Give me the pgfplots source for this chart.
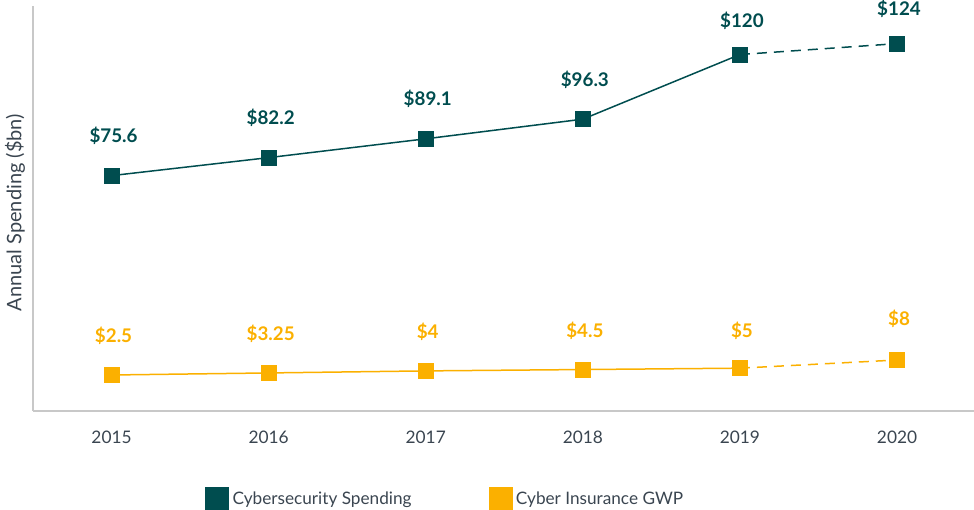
\documentclass[border=0pt]{standalone}
\usepackage{fontspec}
\setmainfont{Lato}
\usepackage{pgfplots}
\pgfplotsset{compat=1.18}
\usepackage{pgfplotstable}
\definecolor{cyberteal}{HTML}{004D4F}
\definecolor{insorange}{HTML}{FBB000}
\definecolor{txtgray}{HTML}{3A4550}
\definecolor{axgray}{HTML}{C8C8C8}

\pgfplotstableread{
x y lab dy
2015 75.6 75.6 33
2016 82.2 82.2 33
2017 89.1 89.1 33
2018 96.3 96.3 33
2019 120 120 27
2020 124 124 28
}\cyber
\pgfplotstableread{
x y lab dy
2015 2.5 2.5 32
2016 3.25 3.25 32
2017 4 4 32
2018 4.5 4.5 32
2019 5 5 31
2020 8 8 34
}\insur
\pgfplotstableread{
x y
2015 75.6
2016 82.2
2017 89.1
2018 96.3
2019 120
}\cybersolid
\pgfplotstableread{
x y
2019 120
2020 124
}\cyberdash
\pgfplotstableread{
x y
2015 2.5
2016 3.25
2017 4
2018 4.5
2019 5
}\insursolid
\pgfplotstableread{
x y
2019 5
2020 8
}\insurdash

\begin{document}
\begin{tikzpicture}
\path[use as bounding box] (0pt,0pt) rectangle (974pt,510pt);
\begin{axis}[
  at={(33pt,99pt)}, anchor=south west,
  scale only axis, width=941pt, height=405pt,
  xmin=2014.5, xmax=2020.49, ymin=-10.7, ymax=137.8,
  axis x line*=bottom, axis y line*=left,
  axis line style={draw=axgray, line width=1.5pt, -},
  ytick=\empty, xtick={2015,2016,2017,2018,2019,2020},
  major tick length=0pt,
  /pgf/number format/1000 sep={},
  /pgf/number format/assume math mode=true,
  xticklabel style={font=\fontsize{17.3}{20}\selectfont, text=txtgray, anchor=north, yshift=-16pt},
  ylabel={Annual Spending (\$bn)},
  every axis y label/.style={at={(axis description cs:-0.0191,0.49)}, rotate=90, anchor=center, font=\fontsize{20}{23}\selectfont, text=txtgray},
  clip=false,
  legend columns=2,
  legend cell align=left,
  legend style={draw=none, fill=none, inner sep=0pt, outer sep=0pt,
    font=\fontsize{17.2}{20}\selectfont, text=txtgray,
    at={(rel axis cs:0.183,-0.1877)}, anchor=north west,
    /tikz/every even column/.append style={column sep=75pt}},
  legend image code/.code={\fill[#1] (0pt,-11.5pt) rectangle (23pt,11.5pt); \path (25pt,0pt);},
]
\addplot[cyberteal, line width=1.5pt, forget plot] table[x=x,y=y] {\cybersolid};
\addplot[cyberteal, line width=1.5pt, dash pattern=on 10pt off 7pt, forget plot] table[x=x,y=y] {\cyberdash};
\addplot[insorange, line width=1.5pt, forget plot] table[x=x,y=y] {\insursolid};
\addplot[insorange, line width=1.5pt, dash pattern=on 10pt off 7pt, forget plot] table[x=x,y=y] {\insurdash};

\addplot[cyberteal, fill=cyberteal, only marks, mark=square*, mark size=7.5pt,
  mark options={draw=none, fill=cyberteal},
  point meta=explicit symbolic,
  visualization depends on={\thisrow{dy}\as\dy},
  nodes near coords={\$\pgfplotspointmeta},
  every node near coord/.append style={anchor=base, xshift=2pt, yshift=\dy pt, text=cyberteal, font=\fontsize{18.8}{22}\selectfont\bfseries, inner sep=0pt}
] table[x=x,y=y,meta=lab] {\cyber};
\addlegendentry{Cybersecurity Spending}
\addplot[insorange, fill=insorange, only marks, mark=square*, mark size=7.5pt,
  mark options={draw=none, fill=insorange},
  point meta=explicit symbolic,
  visualization depends on={\thisrow{dy}\as\dy},
  nodes near coords={\$\pgfplotspointmeta},
  every node near coord/.append style={anchor=base, xshift=2pt, yshift=\dy pt, text=insorange, font=\fontsize{18.8}{22}\selectfont\bfseries, inner sep=0pt}
] table[x=x,y=y,meta=lab] {\insur};
\addlegendentry{Cyber Insurance GWP}
\end{axis}
\end{tikzpicture}
\end{document}
